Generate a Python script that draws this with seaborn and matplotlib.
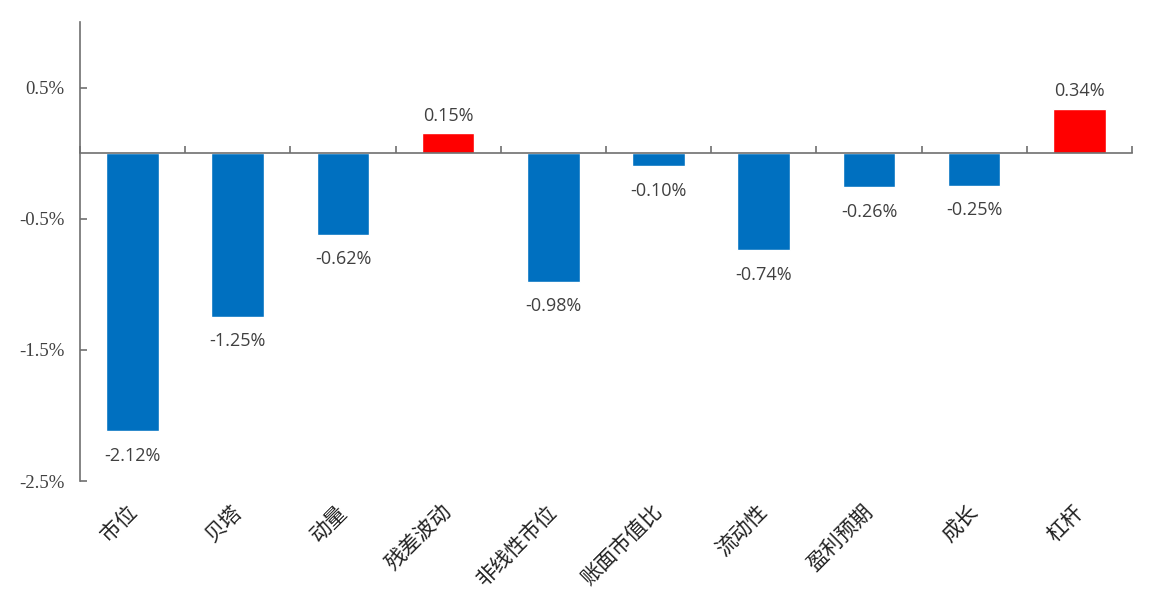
import numpy as np
import matplotlib
matplotlib.use("Agg")
import matplotlib.pyplot as plt
import seaborn as sns
from matplotlib.ticker import FixedLocator, FuncFormatter

# Données du graphique
categories = ["市位", "贝塔", "动量", "残差波动", "非线性市位", "账面市值比", "流动性", "盈利预期", "成长", "杠杆"]
values = [-2.12, -1.25, -0.62, 0.15, -0.98, -0.10, -0.74, -0.26, -0.25, 0.34]
y_ticks = [-2.5, -1.5, -0.5, 0.5]

BLUE = "#0070C0"
RED = "#FF0000"
GREY_TXT = "#404040"
AXIS_COL = "#6f6f6f"

sns.set_theme(style="white")
plt.rcParams["font.family"] = ["Noto Sans CJK SC", "DejaVu Sans"]

fig = plt.figure(figsize=(11.52, 5.94), dpi=100)
ax = fig.add_axes([0.0694, 0.19, 0.9132, 0.773])

palette = [RED if v > 0 else BLUE for v in values]
sns.barplot(x=categories, y=values, hue=categories, palette=palette,
            width=0.5, legend=False, ax=ax, saturation=1)

n = len(categories)
ax.set_xlim(-0.5, n - 0.5)
ax.set_ylim(-2.5, 1.0)

# Axe des x sur la ligne zéro
for s in ["top", "right"]:
    ax.spines[s].set_visible(False)
ax.spines["bottom"].set_position(("data", 0))
for s in ["left", "bottom"]:
    ax.spines[s].set_color(AXIS_COL)
    ax.spines[s].set_linewidth(1.2)

ax.set_xticks(np.arange(n))
ax.tick_params(axis="x", which="major", length=0, labelbottom=False)
ax.xaxis.set_minor_locator(FixedLocator(np.arange(n + 1) - 0.5))
ax.tick_params(axis="x", which="minor", direction="in", length=5,
               width=1.2, color=AXIS_COL, bottom=True)

ax.yaxis.set_major_locator(FixedLocator(y_ticks))
ax.yaxis.set_major_formatter(FuncFormatter(lambda v, p: f"{v:.1f}%"))
ax.tick_params(axis="y", direction="in", length=5, width=1.2, color=AXIS_COL,
               left=True, labelsize=13.5, labelcolor=GREY_TXT, pad=11)
for lbl in ax.get_yticklabels():
    lbl.set_fontfamily(["Liberation Serif", "DejaVu Serif"])

ax.set_xlabel("")
ax.set_ylabel("")

# Étiquettes de valeurs
for i, v in enumerate(values):
    off = 6 if v > 0 else -11
    ax.annotate(f"{v:.2f}%", xy=(i, v), xytext=(0, off), textcoords="offset points",
                ha="center", va="bottom" if v > 0 else "top",
                fontsize=13, color=GREY_TXT, family=["Open Sans", "DejaVu Sans"])

# Étiquettes de catégories en bas, inclinées
xform = ax.get_xaxis_transform()
for i, c in enumerate(categories):
    ax.annotate(c, xy=(i, 0), xycoords=xform, xytext=(-5, -14),
                textcoords="offset points", rotation=45, rotation_mode="anchor",
                ha="right", va="top", fontsize=15, color="#202020")

fig.savefig("out.png", dpi=100)
